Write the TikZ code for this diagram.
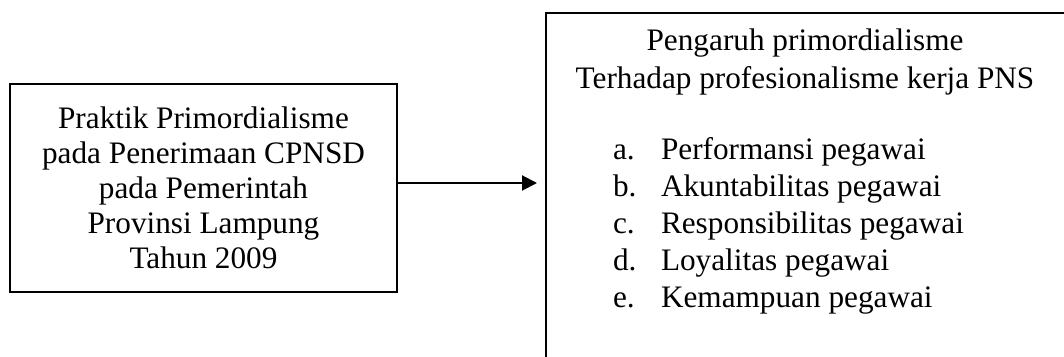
\documentclass[tikz,border=0pt]{standalone}
\usepackage{fontspec}
\setmainfont{Liberation Serif}
\usetikzlibrary{arrows.meta,positioning,calc}

\begin{document}
\begin{tikzpicture}[x=0.4pt,y=-0.4pt,line width=0.8pt,
  every node/.append style={font=\fontsize{12.5}{14}\selectfont,inner sep=0pt},
  box/.style={draw,align=center}]
\clip (0,0) rectangle (1064,357);
\node[box,minimum width=154.8pt,minimum height=83.2pt] (cause) at (203.5,188)
  {Praktik Primordialisme\\pada Penerimaan CPNSD\\pada Pemerintah\\Provinsi Lampung\\Tahun 2009};
\node[draw,anchor=north west,minimum width=212pt,minimum height=160pt] (effect) at (545,12) {};
\node[align=center,font=\fontsize{12.5}{15.2}\selectfont] (title) at (805,62)
  {Pengaruh primordialisme\\Terhadap profesionalisme kerja PNS};
\foreach \l/\t [count=\i] in {a/Performansi pegawai,b/Akuntabilitas pegawai,
    c/Responsibilitas pegawai,d/Loyalitas pegawai,e/Kemampuan pegawai}{
  \node[anchor=base west] (lbl\i) at (612,{123+37*\i}) {\l.};
  \node[anchor=base west] (item\i) at (660,{123+37*\i}) {\t};
}
\coordinate (tip) at (537,183);
\draw[-{Triangle[length=6pt,width=6pt]}] (cause.east |- tip) -- (tip);
\end{tikzpicture}
\end{document}
